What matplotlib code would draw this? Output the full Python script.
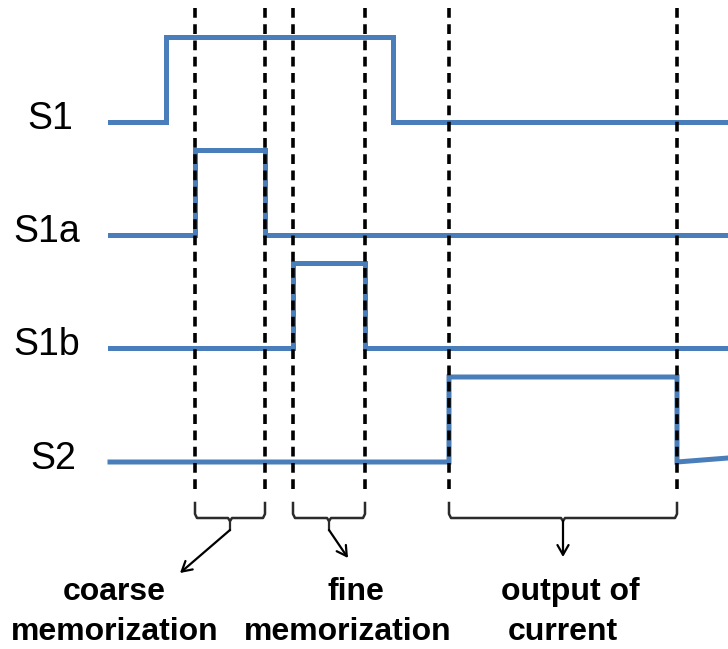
"""Timing diagram of switch signals S1, S1a, S1b and S2."""
import matplotlib
matplotlib.use("Agg")
import matplotlib.pyplot as plt

# signals: name, low level (px), switch-on and switch-off position (px)
names = ["S1", "S1a", "S1b", "S2"]
low_y = [122, 235, 348, 462]
t_on = [166, 195, 293, 449]
t_off = [393, 265, 365, 677]
pulse_h = 85
x_start, x_end = 110, 728
s2_tail_end = 458  # S2 drifts up slightly after switching off

# phase boundaries (dashed) and the three phases
dash_x = [195, 265, 293, 365, 449, 677]
phases = [(195, 265), (293, 365), (449, 677)]
arrow_tips = [(180, 573), (348, 558), (563, 557)]
phase_text = [
    [("coarse", 114), ("memorization", 115)],
    [("fine", 356), ("memorization", 348)],
    [("output of", 570), ("current", 563)],
]
label_x = [50, 47, 47, 53]

BLUE = "#4A7EBB"
plt.rcParams["font.family"] = ["Liberation Sans", "DejaVu Sans"]

fig = plt.figure(figsize=(7.28, 6.49), dpi=100)
ax = fig.add_axes([0, 0, 1, 1])
ax.set_xlim(0, 728)
ax.set_ylim(649, 0)
ax.axis("off")

for i, name in enumerate(names):
    lo, hi = low_y[i], low_y[i] - pulse_h
    xs = [x_start, t_on[i], t_on[i], t_off[i], t_off[i], x_end]
    ys = [lo, lo, hi, hi, lo, lo]
    if name == "S2":
        ys[-1] = s2_tail_end
    ax.plot(xs, ys, color=BLUE, lw=3.6, solid_joinstyle="miter", zorder=2)
    ax.text(label_x[i], lo - 3, name, fontsize=27, ha="center", va="center")

for x in dash_x:
    ax.plot([x, x], [8, 492], color="black", lw=2.6,
            linestyle=(0, (2.7, 1.8)), zorder=3)

# braces with arrows
for (x0, x1), (tx, ty), lines in zip(phases, arrow_tips, phase_text):
    xc = (x0 + x1) / 2
    ax.plot([x0, x0, x0 + 2, xc - 2, xc, xc + 2, x1 - 2, x1, x1],
            [503, 514, 518, 518, 521, 518, 518, 514, 503],
            color="#2b2b2b", lw=1.8, zorder=3)
    stem_end = 530 if tx != xc else 521
    ax.plot([xc, xc], [521, stem_end], color="#2b2b2b", lw=1.6)
    ax.annotate("", xy=(tx, ty), xytext=(xc, stem_end),
                arrowprops=dict(arrowstyle="->,head_length=0.7,head_width=0.4",
                                color="black", lw=1.6, shrinkA=0, shrinkB=0))
    for (txt, cx), cy in zip(lines, [592, 632]):
        ax.text(cx, cy, txt, fontsize=23, fontweight="bold",
                ha="center", va="center")

fig.savefig("out.png", dpi=100)
